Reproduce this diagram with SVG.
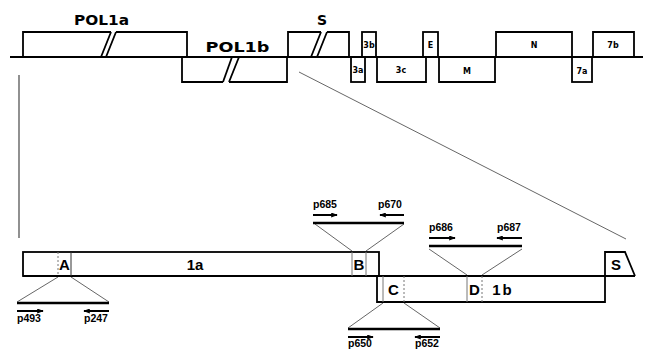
<svg xmlns="http://www.w3.org/2000/svg" width="645" height="350" viewBox="0 0 645 350">
<defs>
<marker id="ah" viewBox="0 0 8 6" refX="7" refY="3" markerWidth="7" markerHeight="5" markerUnits="userSpaceOnUse" orient="auto">
<path d="M0,0 L8,3 L0,6 z" fill="#000"/>
</marker>
<style>
.box{fill:none;stroke:#000;stroke-width:1.8}
.base{stroke:#000;stroke-width:1.8;fill:none}
.thin{stroke:#555;stroke-width:0.9;fill:none}
.div{stroke:#777;stroke-width:1;fill:none}
.dash{stroke:#777;stroke-width:1;stroke-dasharray:2,2;fill:none}
.bar{stroke:#000;stroke-width:2.4}
.arr{stroke:#000;stroke-width:2;marker-end:url(#ah)}
.top{font-family:"DejaVu Sans","Liberation Sans",sans-serif;font-weight:bold;font-size:14px;text-anchor:middle}
.big{font-family:"Liberation Sans",Arial,sans-serif;font-weight:bold;font-size:15px;text-anchor:middle}
.sm{font-family:"DejaVu Sans","Liberation Sans",sans-serif;font-weight:bold;font-size:8px;text-anchor:middle}
.p{font-family:"Liberation Sans",Arial,sans-serif;font-weight:bold;font-size:10.5px}
</style>
</defs>
<g id="genome">
<line class="base" x1="10" y1="57" x2="643" y2="57"/>
<g id="pol1a"><path class="box" d="M23,57 V32 H111 M116,32 H187 V57"/><line class="box" x1="101" y1="57" x2="111" y2="32"/><line class="box" x1="106" y1="57" x2="116" y2="32"/><text class="top" x="101.5" y="25" textLength="55" lengthAdjust="spacingAndGlyphs">POL1a</text></g>
<g id="pol1b"><path class="box" d="M182,57 V82 H223 M229,82 H287 V57"/><line class="box" x1="223" y1="82" x2="232" y2="57"/><line class="box" x1="229" y1="82" x2="239" y2="57"/><text class="top" x="237.5" y="52" textLength="64" lengthAdjust="spacingAndGlyphs">POL1b</text></g>
<g id="s-gene"><path class="box" d="M288,57 V32 H321 M327,32 H349 V57"/><line class="box" x1="311" y1="57" x2="321" y2="32"/><line class="box" x1="317" y1="57" x2="327" y2="32"/><text class="top" x="322" y="25">S</text></g>
<g id="g3b"><rect class="box" x="362" y="32" width="14" height="25"/><text class="sm" x="369" y="48">3b</text></g>
<g id="g3a"><rect class="box" x="351" y="57" width="14" height="25"/><text class="sm" x="358" y="73">3a</text></g>
<g id="g3c"><path class="box" d="M377,57 V82 H426 V57"/><text class="sm" x="401" y="73">3c</text></g>
<g id="gE"><rect class="box" x="423" y="32" width="15" height="25"/><text class="sm" x="430.5" y="48">E</text></g>
<g id="gM"><path class="box" d="M439,57 V82 H495 V57"/><text class="sm" x="467" y="74">M</text></g>
<g id="gN"><path class="box" d="M496,57 V32 H572 V57"/><text class="sm" x="534" y="48">N</text></g>
<g id="g7a"><rect class="box" x="572" y="57" width="20" height="25"/><text class="sm" x="582" y="74">7a</text></g>
<g id="g7b"><path class="box" d="M593,57 V32 H634 V57"/><text class="sm" x="613" y="48">7b</text></g>
</g>
<g id="connectors">
<line class="thin" x1="19" y1="75" x2="19" y2="238" style="stroke-width:1.3"/>
<line class="thin" x1="299" y1="72" x2="626" y2="239"/>
<line class="thin" x1="58" y1="277" x2="17" y2="302"/>
<line class="thin" x1="71" y1="277" x2="109" y2="302"/>
<line class="thin" x1="352" y1="251" x2="315" y2="224"/>
<line class="thin" x1="366" y1="251" x2="404" y2="224"/>
<line class="thin" x1="383" y1="303" x2="348" y2="328"/>
<line class="thin" x1="404" y1="303" x2="440" y2="328"/>
<line class="thin" x1="467" y1="275" x2="429" y2="249"/>
<line class="thin" x1="482" y1="275" x2="522" y2="249"/>
</g>
<g id="orf1a">
<rect class="box" x="23" y="252" width="356" height="24"/>
<line class="base" x1="23" y1="276" x2="635" y2="276"/>
<text class="big" x="195" y="270">1a</text>
</g>
<g id="regionA"><line class="dash" x1="58" y1="252" x2="58" y2="276"/><line class="div" x1="71" y1="252" x2="71" y2="276" style="stroke:#333"/><text class="big" x="64.5" y="270">A</text></g>
<g id="regionB"><line class="div" x1="352" y1="252" x2="352" y2="276"/><line class="div" x1="366" y1="252" x2="366" y2="276"/><text class="big" x="359" y="270">B</text></g>
<g id="orf1b"><path class="box" d="M377,276 V302 H605 V276"/><text class="big" x="503" y="295" letter-spacing="2">1b</text></g>
<g id="regionC"><line class="div" x1="383" y1="276" x2="383" y2="302"/><line class="dash" x1="404" y1="276" x2="404" y2="302"/><text class="big" x="393.5" y="295">C</text></g>
<g id="regionD"><line class="div" x1="467" y1="276" x2="467" y2="302"/><line class="dash" x1="482" y1="276" x2="482" y2="302"/><text class="big" x="474.5" y="295">D</text></g>
<g id="sbox"><path class="box" d="M605,276 V252 H625 L635,276"/><text class="big" x="616" y="270">S</text></g>
<g id="ampA">
<line class="bar" x1="17" y1="303" x2="109" y2="303"/>
<line class="arr" x1="17" y1="311" x2="43" y2="311"/>
<line class="arr" x1="109" y1="311" x2="84" y2="311"/>
<text class="p" x="17" y="322">p493</text><text class="p" x="84" y="322">p247</text>
</g>
<g id="ampB">
<line class="bar" x1="313" y1="223" x2="404" y2="223"/>
<line class="arr" x1="313" y1="215" x2="337" y2="215"/>
<line class="arr" x1="404" y1="215" x2="380" y2="215"/>
<text class="p" x="313" y="208">p685</text><text class="p" x="378" y="208">p670</text>
</g>
<g id="ampC">
<line class="bar" x1="348" y1="329" x2="440" y2="329"/>
<line class="arr" x1="348" y1="337" x2="373" y2="337"/>
<line class="arr" x1="440" y1="337" x2="415" y2="337"/>
<text class="p" x="348" y="347">p650</text><text class="p" x="415" y="347">p652</text>
</g>
<g id="ampD">
<line class="bar" x1="429" y1="246" x2="522" y2="246"/>
<line class="arr" x1="429" y1="238" x2="455" y2="238"/>
<line class="arr" x1="522" y1="238" x2="497" y2="238"/>
<text class="p" x="429" y="231">p686</text><text class="p" x="497" y="231">p687</text>
</g>
</svg>
